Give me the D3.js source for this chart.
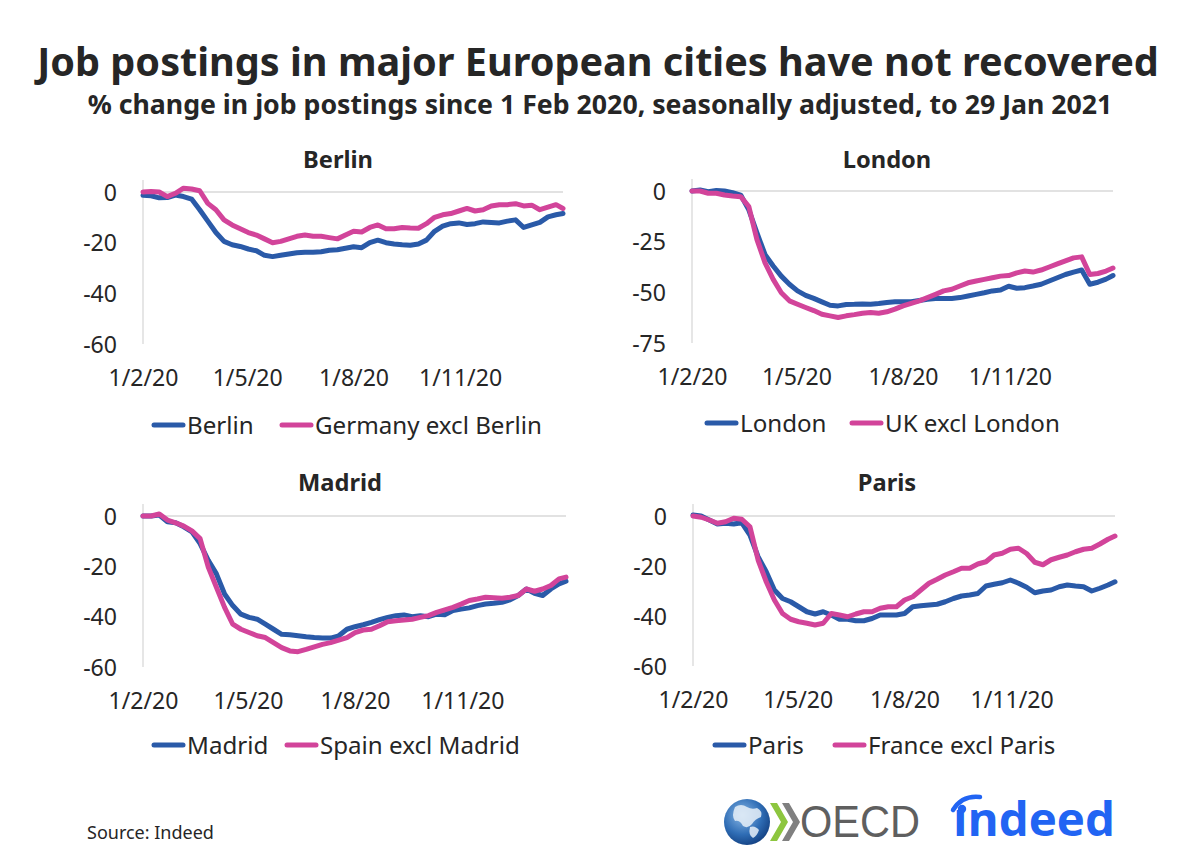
<!DOCTYPE html>
<html><head><meta charset="utf-8">
<script src="https://cdn.jsdelivr.net/npm/d3@7"></script>
<style>body{margin:0;background:#fff}svg{display:block}</style>
</head><body>
<svg id="c" width="1200" height="860"></svg>
<script>
// ---------- DATA ----------
const startDate = Date.UTC(2020, 1, 1);           // 1 Feb 2020
const dayOffsets = d3.range(0, 358, 7).concat([363]); // weekly to 29 Jan 2021
const xTickDates = [Date.UTC(2020,1,1), Date.UTC(2020,4,1), Date.UTC(2020,7,1), Date.UTC(2020,10,1)];

const berlinCity  = [-1.3,-1.5,-2.3,-2.2,-1.2,-1.8,-2.8,-7,-11.5,-16,-19.5,-20.8,-21.5,-22.5,-23.2,-25,-25.5,-25,-24.5,-24,-23.8,-23.8,-23.6,-23,-22.8,-22.2,-21.6,-22,-20,-19,-20,-20.5,-20.8,-21,-20.5,-19,-15.5,-13.5,-12.5,-12.2,-12.8,-12.5,-11.8,-12,-12.2,-11.5,-11,-14,-13,-12,-9.8,-9,-8.5];
const germanyExcl = [0,0.2,0,-1.8,-0.5,1.5,1.2,0.5,-4.5,-7,-11,-13,-14.5,-16,-17,-18.5,-20,-19.5,-18.5,-17.5,-17,-17.5,-17.5,-18,-18.5,-17,-15.5,-15.8,-14,-13,-14.5,-14.5,-14,-14.2,-14.3,-12.5,-10,-9,-8.5,-7.5,-6.5,-7.5,-7,-5.5,-5,-5,-4.6,-5.5,-5.2,-7,-6,-5,-6.5];
const londonCity  = [0,0.5,-0.3,0.2,0,-0.8,-2,-9.3,-20.7,-31.4,-37,-42,-46,-49.3,-51.5,-53,-54.7,-56.4,-56.7,-56,-55.9,-55.7,-55.9,-55.5,-55,-54.6,-54.6,-54.6,-54,-53.4,-53,-53,-53,-52.6,-51.8,-51,-50.2,-49.3,-48.9,-47,-48,-47.7,-46.9,-46,-44.4,-42.8,-41.2,-40,-39,-46,-45,-43.5,-41.7];
const ukExcl      = [0,0,-1.1,-1.1,-2,-2.5,-2.8,-7.7,-24,-35.5,-43.6,-50.2,-54.2,-55.9,-57.5,-59,-60.8,-61.6,-62.4,-61.6,-61,-60.3,-60,-60.3,-59.6,-58.3,-56.7,-55.4,-54.2,-52.6,-51,-49.3,-48.5,-46.9,-45.3,-44.4,-43.6,-42.8,-42,-41.7,-40.4,-39.5,-40,-39,-37.5,-36,-34.5,-33,-32.5,-41.2,-40.7,-39.5,-38];
const madridCity  = [0,0,0.4,-2.3,-2.7,-4.3,-6.3,-11,-17.6,-23,-31,-35.6,-39,-40.3,-41,-43,-45,-47,-47.2,-47.6,-48,-48.3,-48.5,-48.5,-47.6,-45,-44,-43.2,-42.3,-41.2,-40.3,-39.6,-39.3,-40,-39.6,-40,-39,-39.2,-37.6,-37,-36.5,-35.6,-35,-34.7,-34.3,-33.3,-31.6,-29,-30.7,-31.6,-29,-27,-25.9];
const spainExcl   = [0,0,0.8,-1.6,-2.7,-4,-5.9,-9,-20.3,-28.3,-36.3,-43,-45,-46.3,-47.6,-48.3,-50.3,-52.3,-53.6,-53.9,-53,-52,-51,-50.3,-49.3,-48.3,-46.3,-45.3,-45,-43.6,-42,-41.6,-41.3,-41,-40.3,-39.6,-38.3,-37.3,-36.3,-35,-33.6,-33,-32.3,-32.5,-32.7,-32.3,-31.6,-29,-29.9,-29,-27.6,-25,-24.3];
const parisCity   = [0.4,0,-1.6,-3.2,-2.9,-3.2,-2.7,-7.6,-16.3,-22.3,-29.6,-33,-34.3,-36.3,-38.3,-39.2,-38.3,-39.6,-41.3,-41.3,-41.9,-41.9,-41,-39.6,-39.6,-39.6,-39,-36.3,-35.9,-35.6,-35.3,-34.3,-33,-32,-31.6,-31,-28,-27.3,-26.7,-25.6,-26.9,-28.5,-30.7,-30,-29.6,-28.3,-27.6,-28,-28.3,-30,-28.9,-27.6,-26.3];
const franceExcl  = [0,-0.5,-1.6,-2.9,-2.3,-0.9,-1.3,-4.3,-17.6,-26.3,-33.6,-39,-41.3,-42.3,-42.9,-43.6,-42.9,-39,-39.6,-40.3,-39.2,-38.3,-38.3,-36.9,-36.3,-36.3,-33.6,-32.3,-29.6,-26.9,-25.3,-23.6,-22.3,-20.9,-20.9,-19.2,-18.3,-15.6,-14.9,-13.3,-12.9,-15,-18.5,-19.5,-17.5,-16.5,-15.6,-14.3,-13.3,-12.9,-11.2,-9.3,-8];

const yTicks6020 = [0,-20,-40,-60];
const yTicks7525 = [0,-25,-50,-75];

const titleText = "Job postings in major European cities have not recovered";
const subtitleText = "% change in job postings since 1 Feb 2020, seasonally adjusted, to 29 Jan 2021";

// ---------- LAYOUT ----------
const FONT = "'Noto Sans','Open Sans',sans-serif";
const TXT = "#262626";
const BLUE = "#2a5aa8", PINK = "#d2449a";

const svg = d3.select("#c");
svg.append("rect").attr("width",1200).attr("height",860).attr("fill","#fff");

// font size that makes a sample string reach a given width
function fitSize(str, weight, targetW){
  const t = svg.append("text").style("font",`${weight} 100px ${FONT}`).text(str);
  const w = t.node().getComputedTextLength();
  t.remove();
  return w > 0 ? 100*targetW/w : 20;
}
const titleSize  = fitSize(titleText, 700, 1122);
const subSize    = fitSize(subtitleText, 700, 1025);
const tickSize   = fitSize("1/2/20", 400, 70);
const legendSize = fitSize("Germany excl Berlin", 400, 227);
const panelSize  = fitSize("Berlin", 700, 70);
const srcSize    = fitSize("Source: Indeed", 400, 127);

const panels = [
  {title:"Berlin", names:["Berlin","Germany excl Berlin"], series:[berlinCity, germanyExcl], yTicks:yTicks6020,
   left:143, right:563, top:192, bottom:344, titleX:338, titleY:168, legendY:425, legendX:[152,280]},
  {title:"London", names:["London","UK excl London"], series:[londonCity, ukExcl], yTicks:yTicks7525,
   left:692, right:1113, top:191, bottom:343, titleX:887, titleY:168, legendY:423, legendX:[705,850]},
  {title:"Madrid", names:["Madrid","Spain excl Madrid"], series:[madridCity, spainExcl], yTicks:yTicks6020,
   left:143, right:566, top:516, bottom:667, titleX:340, titleY:491, legendY:745, legendX:[152,285]},
  {title:"Paris", names:["Paris","France excl Paris"], series:[parisCity, franceExcl], yTicks:yTicks6020,
   left:693, right:1115, top:516, bottom:666, titleX:887, titleY:491, legendY:745, legendX:[713,833]}
];

svg.append("text").attr("x",598).attr("y",76).attr("text-anchor","middle")
  .style("font",`700 ${titleSize}px ${FONT}`).attr("fill",TXT).text(titleText);
svg.append("text").attr("x",600).attr("y",114).attr("text-anchor","middle")
  .style("font",`700 ${subSize}px ${FONT}`).attr("fill",TXT).text(subtitleText);

const dates = dayOffsets.map(d => d3.utcDay.offset(new Date(startDate), d));
const fmt = d3.utcFormat("%-d/%-m/%y");
const colors = [BLUE, PINK];

panels.forEach(p => {
  const g = svg.append("g");
  const x = d3.scaleUtc().domain([dates[0], dates[dates.length-1]]).range([p.left, p.right]);
  const y = d3.scaleLinear().domain([d3.min(p.yTicks), 0]).range([p.bottom, p.top]);

  g.append("line").attr("x1",p.left).attr("x2",p.left).attr("y1",p.top-12).attr("y2",p.bottom)
    .attr("stroke","#d9d9d9").attr("stroke-width",1.3);
  g.append("line").attr("x1",p.left).attr("x2",p.right).attr("y1",y(0)).attr("y2",y(0))
    .attr("stroke","#d9d9d9").attr("stroke-width",1.3);

  const ya = g.append("g").attr("transform",`translate(${p.left},0)`)
    .call(d3.axisLeft(y).tickValues(p.yTicks).tickSize(0));
  ya.select(".domain").remove();
  ya.selectAll("text").attr("x",-26).attr("dy","0.36em")
    .style("font",`400 ${tickSize}px ${FONT}`).attr("fill",TXT).text(d => d === 0 ? "0" : "-" + Math.abs(d));

  const xa = g.append("g").attr("transform",`translate(0,${p.bottom})`)
    .call(d3.axisBottom(x).tickValues(xTickDates.map(d=>new Date(d))).tickSize(0).tickFormat(fmt));
  xa.select(".domain").remove();
  xa.selectAll("text").attr("y",34).attr("dy","0.36em")
    .style("font",`400 ${tickSize}px ${FONT}`).attr("fill",TXT);

  g.append("text").attr("x",p.titleX).attr("y",p.titleY).attr("text-anchor","middle")
    .style("font",`700 ${panelSize}px ${FONT}`).attr("fill",TXT).text(p.title);

  const line = d3.line().x((d,i)=>x(dates[i])).y(d=>y(d));
  p.series.forEach((s,k) => {
    g.append("path").datum(s).attr("d",line).attr("fill","none")
      .attr("stroke",colors[k]).attr("stroke-width",5).attr("stroke-linejoin","round").attr("stroke-linecap","round");
  });

  p.names.forEach((n,k) => {
    const lx = p.legendX[k];
    g.append("line").attr("x1",lx+2).attr("x2",lx+31).attr("y1",p.legendY).attr("y2",p.legendY)
      .attr("stroke",colors[k]).attr("stroke-width",5).attr("stroke-linecap","round");
    g.append("text").attr("x",lx+35).attr("y",p.legendY).attr("dy","0.36em")
      .style("font",`400 ${legendSize}px ${FONT}`).attr("fill",TXT).text(n);
  });
});

svg.append("text").attr("x",87).attr("y",839).style("font",`400 ${srcSize}px ${FONT}`).attr("fill",TXT).text("Source: Indeed");

// OECD logo
const defs = svg.append("defs");
const rg = defs.append("radialGradient").attr("id","globe").attr("cx","40%").attr("cy","35%").attr("r","70%");
rg.append("stop").attr("offset","0%").attr("stop-color","#8ab8e6");
rg.append("stop").attr("offset","60%").attr("stop-color","#2f6db5");
rg.append("stop").attr("offset","100%").attr("stop-color","#123f80");
const logo = svg.append("g");
logo.append("circle").attr("cx",747).attr("cy",822).attr("r",23).attr("fill","url(#globe)");
logo.append("path").attr("d","M735,807 q6,-4 12,0 q5,3 10,1 q6,3 4,9 q-6,2 -9,7 q-4,5 -9,2 q-3,-6 -8,-5 q-4,-5 0,-14 z").attr("fill","#e8f0f8").attr("opacity",0.85);
logo.append("path").attr("d","M750,827 q5,-2 9,3 q-2,6 -6,8 q-5,-3 -3,-11 z").attr("fill","#e8f0f8").attr("opacity",0.85);
logo.append("path").attr("d","M770,803 l7,0 l11,19 l-11,19 l-7,0 l11,-19 z").attr("fill","#8dc63f");
logo.append("path").attr("d","M782,803 l7,0 l11,19 l-11,19 l-7,0 l11,-19 z").attr("fill","#808080");
logo.append("text").attr("x",800).attr("y",837).style("font",`400 44px 'Liberation Sans','Open Sans',sans-serif`)
  .attr("fill","#5f5f5f").attr("textLength",120).attr("lengthAdjust","spacingAndGlyphs").text("OECD");

// indeed logo
const ind = svg.append("g");
ind.append("text").attr("x",953).attr("y",836).style("font",`700 46px 'Open Sans',sans-serif`)
  .attr("fill","#2164f3").attr("textLength",162).attr("lengthAdjust","spacingAndGlyphs").text("\u0131ndeed");
ind.append("path").attr("d","M953,810 Q962,795 980,797").attr("fill","none").attr("stroke","#2164f3")
  .attr("stroke-width",4.5).attr("stroke-linecap","round");
ind.append("circle").attr("cx",962).attr("cy",809).attr("r",4.2).attr("fill","#2164f3");
</script>
</body></html>
